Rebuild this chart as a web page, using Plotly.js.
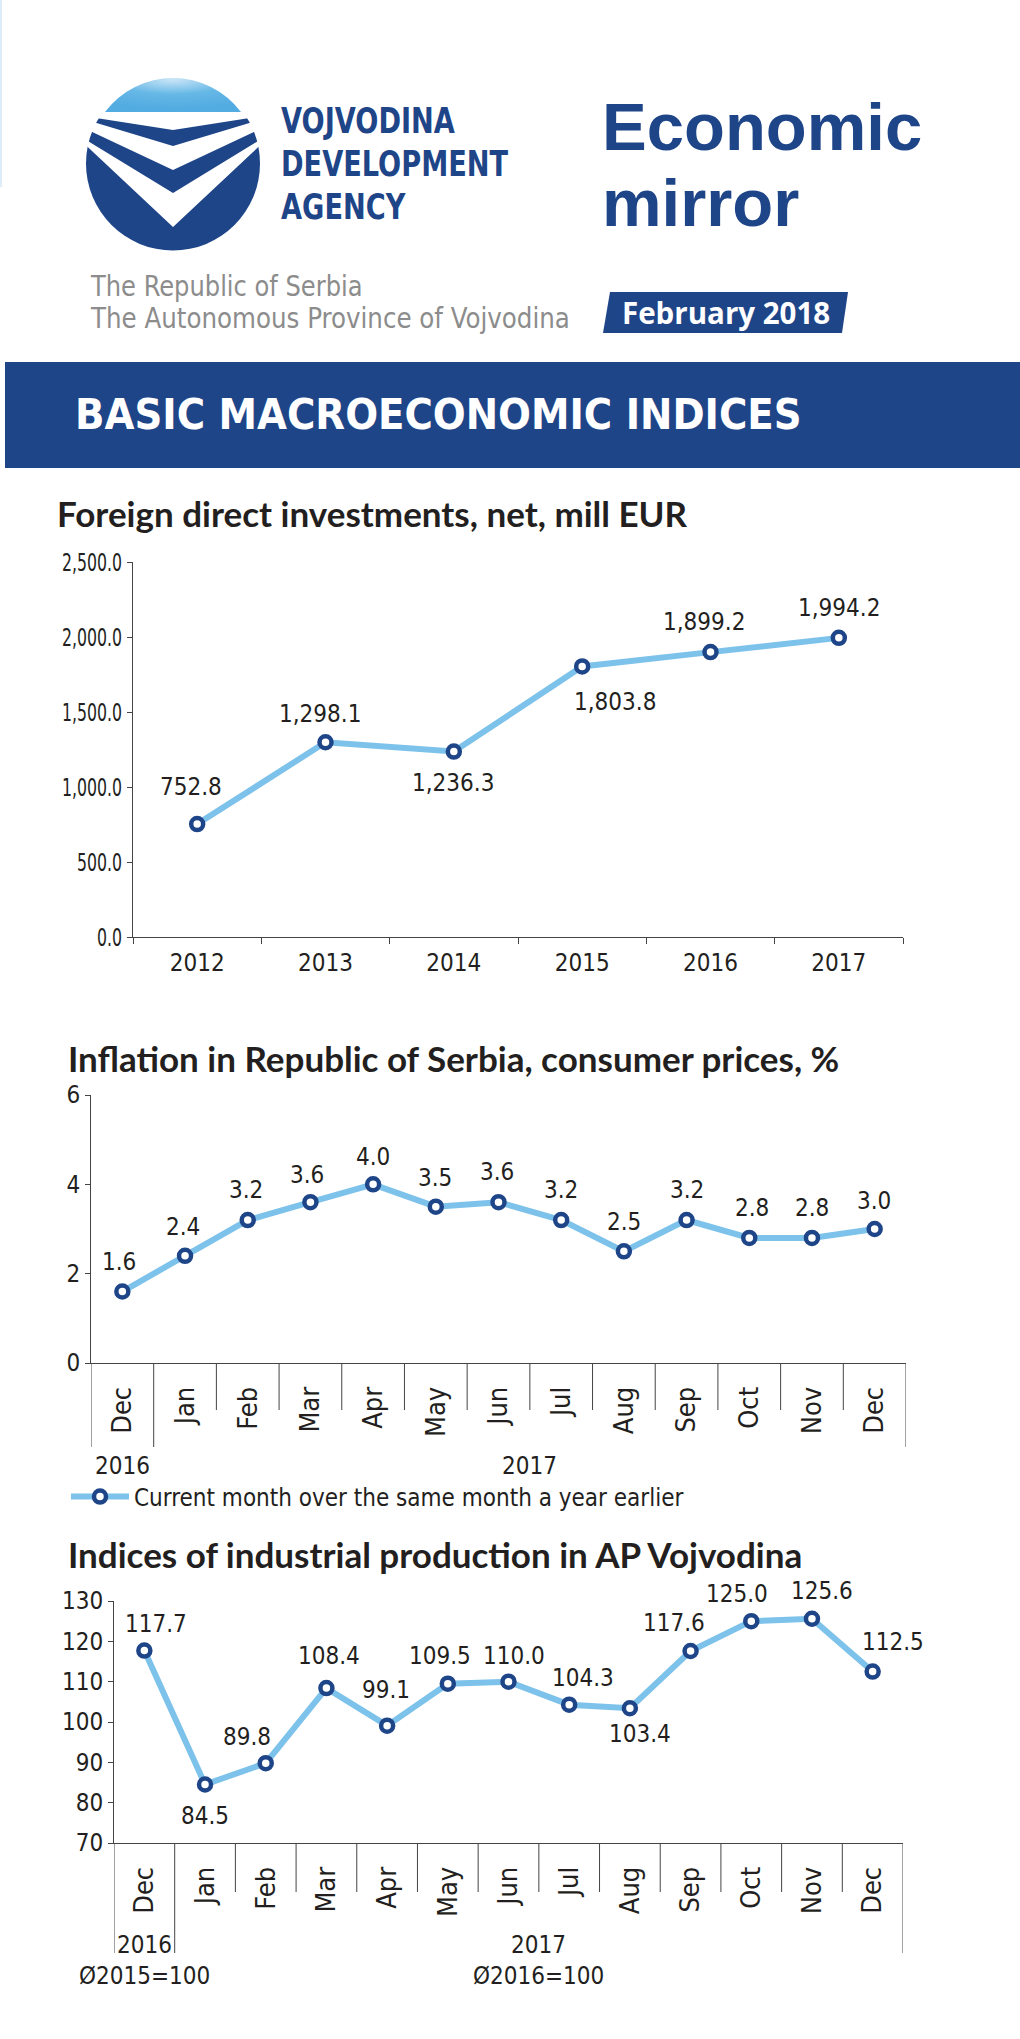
<!DOCTYPE html>
<html>
<head>
<meta charset="utf-8">
<script src="https://cdn.plot.ly/plotly-3.0.1.min.js"></script>
<style>
html,body{margin:0;padding:0;background:#fff;}
#chart{width:1020px;height:2039px;}
</style>
</head>
<body>
<div id="chart"></div>
<script>
// ---------- DATA ----------
const fdiYears = ['2012', '2013', '2014', '2015', '2016', '2017'];
const fdiValues = [752.8, 1298.1, 1236.3, 1803.8, 1899.2, 1994.2];

const inflMonths = ['Dec', 'Jan', 'Feb', 'Mar', 'Apr', 'May', 'Jun', 'Jul', 'Aug', 'Sep', 'Oct', 'Nov', 'Dec'];
const inflValues = [1.6, 2.4, 3.2, 3.6, 4.0, 3.5, 3.6, 3.2, 2.5, 3.2, 2.8, 2.8, 3.0];
const inflGroups = ['2016', '2017'];
const inflGroupCounts = [1, 12];
const inflLegend = 'Current month over the same month a year earlier';

const indMonths = ['Dec', 'Jan', 'Feb', 'Mar', 'Apr', 'May', 'Jun', 'Jul', 'Aug', 'Sep', 'Oct', 'Nov', 'Dec'];
const indValues = [117.7, 84.5, 89.8, 108.4, 99.1, 109.5, 110.0, 104.3, 103.4, 117.6, 125.0, 125.6, 112.5];
const indGroups = ['2016', '2017'];
const indGroupBases = ['Ø2015=100', 'Ø2016=100'];
const indGroupCounts = [1, 12];

// ---------- STYLE (label offsets in px) ----------
const fdiLabelDy = [37, 28, -31, -36, 30, 30];
const fdiLabelDx = [-6, -6, -1, 33, -7, 0];
const inflLabelDy = [30, 29, 30, 27, 27, 29, 30, 30, 29, 30, 30, 30, 28];
const inflLabelDx = [-3, -2, -2, -3, 0, -1, -2, 0, 0, 0, 3, 0, -1];
const indLabelDy = [27, -31, 26, 32, 36, 28, 26, 27, -26, 28, 27, 28, 30];
const indLabelDx = [12, 0, -19, 3, -1, -8, 5, 14, 10, -17, -14, 10, 20];

const W = 1020, H = 2039;
const px = v => v / W;
const py = v => 1 - v / H;

const BLUE = '#1f4589';
const LINE = '#7dc2ea';
const AX = '#444';
const TXT = '#231f20';
const NUMF = '"DejaVu Sans Condensed", "DejaVu Sans", sans-serif';
const TITLEF = 'Lato, "Open Sans", sans-serif';
const HEADF = '"Liberation Sans", Arial, sans-serif';

const fmt1 = v => v.toLocaleString('en-US', {minimumFractionDigits: 1, maximumFractionDigits: 1});

const lineStyle = {color: LINE, width: 6};
const markerStyle = {size: 12, color: '#ffffff', line: {color: BLUE, width: 4.5}};

const idx = a => a.map((_, i) => i);

const traces = [
  {x: fdiYears, y: fdiValues, xaxis: 'x', yaxis: 'y', type: 'scatter', mode: 'lines+markers',
   line: lineStyle, marker: markerStyle, cliponaxis: false, showlegend: false, hoverinfo: 'skip'},
  {x: idx(inflMonths), y: inflValues, xaxis: 'x2', yaxis: 'y2', type: 'scatter', mode: 'lines+markers',
   line: lineStyle, marker: markerStyle, cliponaxis: false, showlegend: true, name: inflLegend, hoverinfo: 'skip'},
  {x: idx(indMonths), y: indValues, xaxis: 'x3', yaxis: 'y3', type: 'scatter', mode: 'lines+markers',
   line: lineStyle, marker: markerStyle, cliponaxis: false, showlegend: false, hoverinfo: 'skip'}
];

const annotations = [];
const shapes = [];
const condenseList = [];

// ---------- HEADER ----------
shapes.push({type: 'rect', xref: 'paper', yref: 'paper', x0: px(0), x1: px(2), y0: py(187), y1: py(0),
  fillcolor: '#dcecf8', line: {width: 0}, layer: 'below'});
shapes.push({type: 'rect', xref: 'paper', yref: 'paper', x0: px(5), x1: px(1020), y0: py(468), y1: py(362),
  fillcolor: BLUE, line: {width: 0}});
shapes.push({type: 'path', xref: 'paper', yref: 'paper',
  path: `M ${px(610)} ${py(292)} L ${px(848)} ${py(292)} L ${px(842)} ${py(333)} L ${px(603)} ${py(333)} Z`,
  fillcolor: BLUE, line: {width: 0}});

const hdr = (text, x, y, font, anchor, sx) => {
  annotations.push({xref: 'paper', yref: 'paper', x: px(x), y: py(y),
    xanchor: anchor || 'left', yanchor: 'middle', text, showarrow: false, font});
  if (sx) condenseList.push([annotations.length - 1, sx]);
};

const logoFont = {family: NUMF, size: 36, color: BLUE, weight: 700};
hdr('VOJVODINA', 279, 121, logoFont, 'left', 0.84);
hdr('DEVELOPMENT', 279, 164, logoFont, 'left', 0.84);
hdr('AGENCY', 279, 207, logoFont, 'left', 0.84);
hdr('Economic', 600, 127, {family: HEADF, size: 67, color: BLUE, weight: 700});
hdr('mirror', 600, 203, {family: HEADF, size: 67, color: BLUE, weight: 700});
hdr('The Republic of Serbia', 88, 286, {family: NUMF, size: 28, color: '#8c8c8c'}, 'left', 0.96);
hdr('The Autonomous Province of Vojvodina', 88, 318, {family: NUMF, size: 28, color: '#8c8c8c'}, 'left', 0.975);
hdr('February 2018', 726, 312, {family: '"Open Sans", sans-serif', size: 29.5, color: '#ffffff', weight: 700}, 'center');
hdr('BASIC MACROECONOMIC INDICES', 73, 414, {family: NUMF, size: 43, color: '#ffffff', weight: 700});

// logo as svg image
const logoSvg = `<svg xmlns="http://www.w3.org/2000/svg" viewBox="80 70 186 186" width="186" height="186">
<defs><radialGradient id="g" cx="50%" cy="0%" r="90%" fx="50%" fy="5%">
<stop offset="0" stop-color="#c9e5f7"/><stop offset="0.5" stop-color="#66b8e6"/><stop offset="1" stop-color="#52abe1"/></radialGradient></defs>
<circle cx="173" cy="163.5" r="87" fill="${BLUE}"/>
<polygon points="76,60 270,60 270,114.8 173,130 76,114.8" fill="#fff"/>
<polygon points="76,116.9 173,146 270,116.9 270,124.3 173,170 76,124.3" fill="#fff"/>
<polygon points="76,133.8 173,193 270,133.8 270,136 173,227 76,136" fill="#fff"/>
<path d="M 105 112 A 85 85 0 0 1 241 112 Z" fill="url(#g)"/>
</svg>`;
const images = [{source: 'data:image/svg+xml;charset=utf-8,' + encodeURIComponent(logoSvg),
  xref: 'paper', yref: 'paper', x: px(80), y: py(70), sizex: 186 / W, sizey: 186 / H,
  xanchor: 'left', yanchor: 'top', sizing: 'stretch', layer: 'above'}];

// ---------- TITLES ----------
const title = (text, x, y) => annotations.push({xref: 'paper', yref: 'paper', x: px(x), y: py(y),
  xanchor: 'left', yanchor: 'middle', text, showarrow: false,
  font: {family: TITLEF, size: 35, color: TXT, weight: 700}});
title('Foreign direct investments, net, mill EUR', 55, 513);
title('Inflation in Republic of Serbia, consumer prices, %', 66, 1058);
title('Indices of industrial production in AP Vojvodina', 66, 1554);

// ---------- DATA LABELS ----------
const labelFont = {family: NUMF, size: 24, color: TXT};
fdiValues.forEach((v, i) => annotations.push({xref: 'x', yref: 'y', x: i, y: v, text: fmt1(v), showarrow: false,
  xanchor: 'center', yanchor: 'middle', xshift: fdiLabelDx[i], yshift: fdiLabelDy[i], font: labelFont}));
inflValues.forEach((v, i) => annotations.push({xref: 'x2', yref: 'y2', x: i, y: v, text: fmt1(v), showarrow: false,
  xanchor: 'center', yanchor: 'middle', xshift: inflLabelDx[i], yshift: inflLabelDy[i], font: labelFont}));
indValues.forEach((v, i) => annotations.push({xref: 'x3', yref: 'y3', x: i, y: v, text: fmt1(v), showarrow: false,
  xanchor: 'center', yanchor: 'middle', xshift: indLabelDx[i], yshift: indLabelDy[i], font: labelFont}));

// ---------- DIVIDERS + GROUP LABELS ----------
function dividers(xref, n, counts, yAxis, yShort, yLong) {
  const longs = new Set([0, n]);
  let acc = 0;
  counts.forEach(c => { acc += c; longs.add(acc); });
  for (let k = 0; k <= n; k++) {
    shapes.push({type: 'line', xref, yref: 'paper', x0: k - 0.5, x1: k - 0.5,
      y0: py(yAxis), y1: py(longs.has(k) ? yLong : yShort), line: {color: AX, width: 1}});
  }
}
function groupLabels(xref, groups, counts, y, font) {
  let start = 0;
  groups.forEach((g, i) => {
    const center = start + (counts[i] - 1) / 2;
    annotations.push({xref, yref: 'paper', x: center, y: py(y), text: g, showarrow: false,
      xanchor: 'center', yanchor: 'middle', font});
    start += counts[i];
  });
}
const groupFont = {family: NUMF, size: 24, color: TXT};
dividers('x2', inflMonths.length, inflGroupCounts, 1363, 1410, 1447);
groupLabels('x2', inflGroups, inflGroupCounts, 1466, groupFont);
dividers('x3', indMonths.length, indGroupCounts, 1843, 1892, 1953);
groupLabels('x3', indGroups, indGroupCounts, 1945, groupFont);
groupLabels('x3', indGroupBases, indGroupCounts, 1976, groupFont);

// ---------- AXES ----------
const baseY = {showgrid: false, zeroline: false, showline: true, linecolor: AX, linewidth: 1,
  ticks: 'outside', ticklen: 5, tickcolor: AX, fixedrange: true};
const monthAxis = (n, dom, anchor, labels) => ({domain: dom, anchor, range: [-0.5, n - 0.5],
  tickvals: labels.map((_, i) => i), ticktext: labels, tickangle: -90, ticks: '',
  showgrid: false, zeroline: false, showline: true, linecolor: AX, linewidth: 1,
  tickfont: {family: NUMF, size: 27, color: TXT}, ticklabelstandoff: 12, fixedrange: true});

const layout = {
  width: W, height: H,
  margin: {l: 0, r: 0, t: 0, b: 0, pad: 0},
  paper_bgcolor: '#ffffff', plot_bgcolor: 'rgba(0,0,0,0)',
  font: {family: NUMF, color: TXT},
  xaxis: {domain: [px(133), px(903)], anchor: 'y', type: 'category', range: [-0.5, fdiYears.length - 0.5],
    tickson: 'boundaries', ticks: 'outside', ticklen: 6, tickcolor: AX, showgrid: false, zeroline: false,
    showline: true, linecolor: AX, linewidth: 1, tickfont: {family: NUMF, size: 24, color: TXT},
    ticklabelstandoff: 4, fixedrange: true},
  yaxis: Object.assign({}, baseY, {domain: [py(937), py(562)], anchor: 'x', range: [0, 2500], dtick: 500,
    tickformat: ',.1f', tickfont: {family: NUMF, size: 25, color: TXT}}),
  xaxis2: monthAxis(inflMonths.length, [px(91), px(906)], 'y2', inflMonths),
  yaxis2: Object.assign({}, baseY, {domain: [py(1363), py(1095)], anchor: 'x2', range: [0, 6], dtick: 2,
    tickfont: {family: NUMF, size: 24, color: TXT}}),
  xaxis3: monthAxis(indMonths.length, [px(114), px(903)], 'y3', indMonths),
  yaxis3: Object.assign({}, baseY, {domain: [py(1843), py(1601)], anchor: 'x3', range: [70, 130], dtick: 10,
    tickfont: {family: NUMF, size: 24, color: TXT}}),
  showlegend: true,
  legend: {x: px(66), xanchor: 'left', y: py(1497), yanchor: 'middle', bgcolor: 'rgba(0,0,0,0)',
    borderwidth: 0, itemwidth: 58, font: {family: NUMF, size: 24, color: TXT}},
  annotations, shapes, images
};

Plotly.newPlot('chart', traces, layout, {staticPlot: true, displayModeBar: false}).then(gd => {
  const condense = (el, sx, origin) => {
    el.style.transformBox = 'fill-box';
    el.style.transformOrigin = origin;
    el.style.transform = `scaleX(${sx})`;
  };
  condenseList.forEach(([i, sx]) => {
    gd.querySelectorAll(`g.annotation[data-index="${i}"] text`).forEach(el => condense(el, sx, '0% 50%'));
  });
  // narrow tick labels on the FDI value axis (right edge kept in place)
  gd.querySelectorAll('g.ytick').forEach(g => condense(g, 0.7, '100% 50%'));
});
</script>
</body>
</html>
